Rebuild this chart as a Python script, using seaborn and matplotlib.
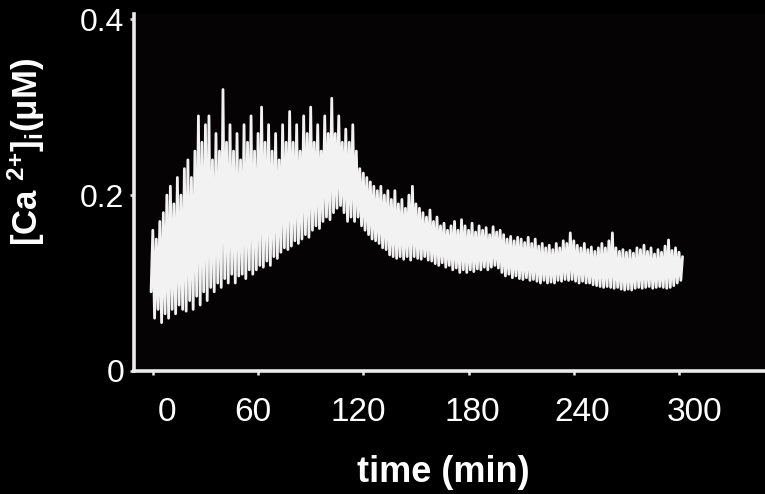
import numpy as np
import pandas as pd
import matplotlib
matplotlib.use("Agg")
import matplotlib.pyplot as plt
import seaborn as sns

# ---- data ----
time_min = np.arange(-1, 303)  # one sample per minute
calcium_uM = [
    0.09, 0.16, 0.06, 0.15, 0.07, 0.17, 0.055, 0.18, 0.065, 0.20,
    0.06, 0.21, 0.07, 0.19, 0.065, 0.22, 0.075, 0.20, 0.07, 0.23,
    0.068, 0.24, 0.08, 0.22, 0.07, 0.25, 0.085, 0.29, 0.075, 0.26,
    0.09, 0.28, 0.08, 0.29, 0.095, 0.24, 0.09, 0.27, 0.10, 0.25,
    0.095, 0.32, 0.105, 0.26, 0.10, 0.28, 0.11, 0.25, 0.10, 0.27,
    0.108, 0.24, 0.11, 0.28, 0.105, 0.26, 0.115, 0.29, 0.11, 0.25,
    0.115, 0.27, 0.12, 0.30, 0.118, 0.26, 0.125, 0.28, 0.12, 0.25,
    0.13, 0.27, 0.128, 0.24, 0.135, 0.28, 0.14, 0.26, 0.138, 0.295,
    0.142, 0.26, 0.148, 0.28, 0.145, 0.25, 0.15, 0.29, 0.155, 0.27,
    0.152, 0.30, 0.16, 0.26, 0.165, 0.28, 0.162, 0.25, 0.17, 0.29,
    0.175, 0.27, 0.172, 0.31, 0.18, 0.27, 0.185, 0.29, 0.188, 0.26,
    0.18, 0.275, 0.17, 0.26, 0.175, 0.28, 0.17, 0.25, 0.175, 0.23,
    0.165, 0.225, 0.16, 0.22, 0.155, 0.215, 0.15, 0.21, 0.148, 0.205,
    0.145, 0.21, 0.14, 0.20, 0.138, 0.205, 0.132, 0.195, 0.13, 0.205,
    0.128, 0.19, 0.13, 0.195, 0.127, 0.185, 0.13, 0.20, 0.126, 0.21,
    0.13, 0.19, 0.128, 0.185, 0.127, 0.18, 0.13, 0.175, 0.126, 0.183,
    0.125, 0.17, 0.122, 0.175, 0.12, 0.165, 0.123, 0.168, 0.118, 0.16,
    0.12, 0.165, 0.115, 0.17, 0.117, 0.16, 0.112, 0.172, 0.115, 0.165,
    0.112, 0.16, 0.115, 0.168, 0.113, 0.158, 0.116, 0.165, 0.115, 0.16,
    0.118, 0.163, 0.115, 0.155, 0.118, 0.164, 0.12, 0.158, 0.117, 0.16,
    0.112, 0.155, 0.108, 0.15, 0.11, 0.153, 0.106, 0.148, 0.108, 0.152,
    0.105, 0.15, 0.104, 0.146, 0.106, 0.152, 0.103, 0.145, 0.104, 0.15,
    0.102, 0.142, 0.10, 0.145, 0.103, 0.14, 0.10, 0.143, 0.101, 0.138,
    0.10, 0.145, 0.103, 0.14, 0.102, 0.148, 0.104, 0.145, 0.103, 0.157,
    0.104, 0.148, 0.102, 0.143, 0.10, 0.14, 0.102, 0.145, 0.10, 0.138,
    0.10, 0.141, 0.098, 0.136, 0.097, 0.14, 0.096, 0.145, 0.095, 0.14,
    0.096, 0.148, 0.095, 0.157, 0.094, 0.14, 0.095, 0.136, 0.093, 0.138,
    0.092, 0.135, 0.093, 0.137, 0.092, 0.134, 0.094, 0.14, 0.095, 0.138,
    0.094, 0.143, 0.095, 0.136, 0.096, 0.14, 0.094, 0.133, 0.095, 0.138,
    0.096, 0.135, 0.095, 0.142, 0.094, 0.149, 0.095, 0.137, 0.097, 0.14,
    0.10, 0.135, 0.103, 0.13,
]
x_ticks = [0, 60, 120, 180, 240, 300]
x_tick_labels = ["0", "60", "120", "180", "240", "300"]
x_label_pos = [8, 57, 117, 182, 245, 309]  # where the printed labels sit
y_ticks = [0, 0.2, 0.4]
y_tick_labels = ["0", "0.2", "0.4"]

df = pd.DataFrame({"time": time_min, "ca": calcium_uM})

# ---- style ----
sns.set_style("dark")
plt.rcParams["font.family"] = ["Liberation Sans", "DejaVu Sans"]
plt.rcParams["mathtext.fontset"] = "custom"
plt.rcParams["mathtext.rm"] = "Liberation Sans:bold"
plt.rcParams["mathtext.bf"] = "Liberation Sans:bold"
plt.rcParams["mathtext.it"] = "Liberation Sans:bold"

fg = "#ececec"
fig = plt.figure(figsize=(7.65, 4.94), dpi=100, facecolor="black")
ax = fig.add_axes([0.175, 0.249, 0.825, 0.723])
ax.set_facecolor("#050303")

sns.lineplot(data=df, x="time", y="ca", ax=ax, color="#f2f2f2",
             linewidth=2.0, estimator=None, sort=False)

ax.set_xlim(-10.8, 349)
ax.set_ylim(0, 0.406)
ax.grid(False)

for side in ["top", "right"]:
    ax.spines[side].set_visible(False)
for side in ["left", "bottom"]:
    ax.spines[side].set_visible(True)
    ax.spines[side].set_color(fg)
    ax.spines[side].set_linewidth(2.6)

# x: tick marks at the data ticks, labels where they are printed
ax.set_xticks(x_ticks)
ax.set_xticklabels([""] * len(x_ticks))
ax.set_xticks(x_label_pos, minor=True)
ax.set_xticklabels(x_tick_labels, minor=True)
ax.tick_params(axis="x", which="major", direction="out", length=3, width=1.8,
               color=fg, bottom=True)
ax.tick_params(axis="x", which="minor", length=0, pad=19, labelsize=24,
               labelcolor="white", bottom=True)

ax.set_yticks(y_ticks)
ax.set_yticklabels(y_tick_labels)
ax.tick_params(axis="y", direction="out", length=3, width=1.8, color=fg,
               labelsize=23, labelcolor="white", pad=4, left=True)

ax.set_xlabel("time (min)", fontsize=26, fontweight="bold", color="white")
ax.xaxis.set_label_coords(0.491, -0.235)
ax.set_ylabel(r"[Ca $^{\mathbf{2{+}}}$]$_{\mathbf{i}}$(μM)", fontsize=25,
              fontweight="bold", color="white")
ax.yaxis.set_label_coords(-0.137, 0.613)

fig.savefig("out.png", dpi=100, facecolor="black")
